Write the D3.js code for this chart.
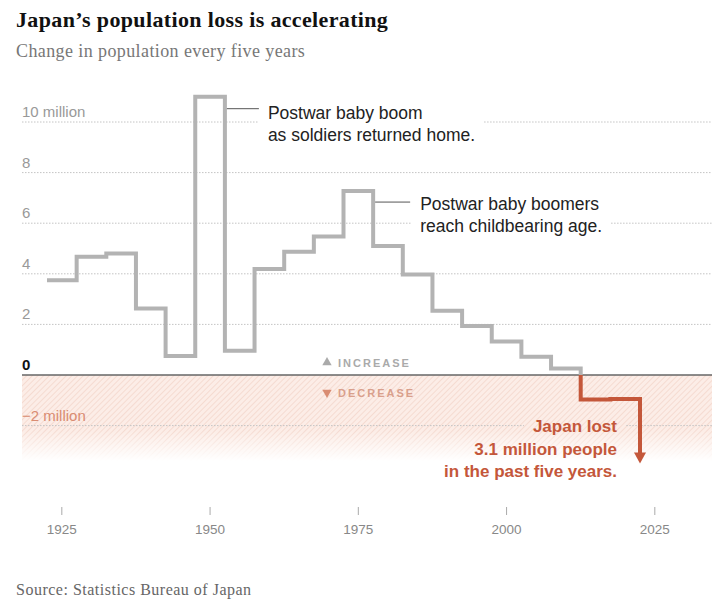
<!DOCTYPE html>
<html lang="en">
<head>
<meta charset="UTF-8">
<title>Japan's population loss is accelerating</title>
<style>
  body { margin: 0; background: #fff; }
  svg { display: block; }
</style>
</head>
<body>
<div id="chart"></div>
<script src="https://d3js.org/d3.v7.min.js"></script>
<script>
// population change over each five-year period, in millions (year = end of period)
const years = [1925, 1930, 1935, 1940, 1945, 1950, 1955, 1960, 1965, 1970,
               1975, 1980, 1985, 1990, 1995, 2000, 2005, 2010, 2015, 2020];
const changes = [3.75, 4.67, 4.8, 2.63, 0.75, 11.0, 0.96, 4.19, 4.87, 5.47,
                 7.27, 5.1, 3.97, 2.54, 1.94, 1.32, 0.72, 0.26, -0.97, -0.95];
// most recent period, drawn as the arrow
const latestYear = 2025;
const latestChange = -3.1;

const yTicks = [-2, 0, 2, 4, 6, 8, 10];
const xTicks = [1925, 1950, 1975, 2000, 2025];

const sans = "'Liberation Sans', Arial, sans-serif";
const serif = "'Liberation Serif', serif";
const gray = "#b3b3b3";
const red = "#c4573a";

const width = 720, height = 611;
const left = 22, right = 712;

const svg = d3.select("#chart").append("svg")
    .attr("width", width)
    .attr("height", height);

const x = d3.scaleLinear().domain([1922.5, 2022.5]).range([47, 640]);
const y = d3.scaleLinear().domain([-4, 12]).range([476.2, 71.4]);

// title + subtitle
svg.append("text")
    .attr("x", 16).attr("y", 27)
    .attr("font-family", serif)
    .attr("font-weight", "bold")
    .attr("font-size", 22)
    .attr("letter-spacing", 0.35)
    .attr("fill", "#111")
    .text("Japan’s population loss is accelerating");

svg.append("text")
    .attr("x", 16).attr("y", 56.5)
    .attr("font-family", serif)
    .attr("font-size", 18)
    .attr("letter-spacing", 0.4)
    .attr("fill", "#777")
    .text("Change in population every five years");

// defs: hatch + fade mask + clips
const defs = svg.append("defs");
const hatch = defs.append("pattern")
    .attr("id", "hatch")
    .attr("patternUnits", "userSpaceOnUse")
    .attr("width", 4).attr("height", 4)
    .attr("patternTransform", "rotate(45)");
hatch.append("rect").attr("width", 4).attr("height", 4).attr("fill", "#fcede7");
hatch.append("line")
    .attr("x1", 0).attr("y1", 0).attr("x2", 0).attr("y2", 4)
    .attr("stroke", "#f3d5ca").attr("stroke-width", 1.5);

const grad = defs.append("linearGradient")
    .attr("id", "fade")
    .attr("x1", 0).attr("y1", 0).attr("x2", 0).attr("y2", 1);
grad.append("stop").attr("offset", "0%").attr("stop-color", "#fff");
grad.append("stop").attr("offset", "65%").attr("stop-color", "#fff");
grad.append("stop").attr("offset", "100%").attr("stop-color", "#000");

defs.append("mask").attr("id", "fadeMask")
    .attr("maskContentUnits", "objectBoundingBox")
  .append("rect")
    .attr("width", 1).attr("height", 1)
    .attr("fill", "url(#fade)");

defs.append("clipPath").attr("id", "above")
  .append("rect")
    .attr("x", 0).attr("y", 0)
    .attr("width", width).attr("height", y(0));
defs.append("clipPath").attr("id", "below")
  .append("rect")
    .attr("x", 0).attr("y", y(0))
    .attr("width", width).attr("height", height - y(0));

// layers
const gBg = svg.append("g");
const gGrid = svg.append("g");
const gAxis = svg.append("g");
const gLine = svg.append("g");
const gText = svg.append("g");

// pink "decrease" area
gBg.append("rect")
    .attr("x", left).attr("y", y(0))
    .attr("width", right - left)
    .attr("height", y(-3.4) - y(0))
    .attr("fill", "url(#hatch)")
    .attr("mask", "url(#fadeMask)");

// y labels
gAxis.selectAll(".ylab")
  .data(yTicks)
  .join("text")
    .attr("class", "ylab")
    .attr("x", left)
    .attr("y", d => y(d) - 5)
    .attr("font-family", sans)
    .attr("font-size", 15)
    .attr("font-weight", d => d === 0 ? "bold" : "normal")
    .attr("fill", d => d === 0 ? "#111" : d < 0 ? "#d98c72" : "#999")
    .text(d => d === 10 ? "10 million" : d === -2 ? "−2 million" : d);

// zero line
gAxis.append("line")
    .attr("x1", left).attr("x2", right)
    .attr("y1", y(0)).attr("y2", y(0))
    .attr("stroke", "#666")
    .attr("stroke-width", 1.5);

// x axis
const xAxis = gAxis.append("g")
    .attr("transform", "translate(0,507)");
xAxis.selectAll("line")
  .data(xTicks)
  .join("line")
    .attr("x1", d => x(d)).attr("x2", d => x(d))
    .attr("y1", 0).attr("y2", 8)
    .attr("stroke", "#aaa");
xAxis.selectAll("text")
  .data(xTicks)
  .join("text")
    .attr("x", d => x(d))
    .attr("y", 27)
    .attr("text-anchor", "middle")
    .attr("font-family", sans)
    .attr("font-size", 13.5)
    .attr("fill", "#888")
    .text(d => d);

// increase / decrease keys
const keyX = 327;
gAxis.append("path")
    .attr("d", d3.symbol(d3.symbolTriangle, 38)())
    .attr("transform", `translate(${keyX},${y(0) - 12.5})`)
    .attr("fill", "#aaa");
gAxis.append("text")
    .attr("x", keyX + 11).attr("y", y(0) - 8.5)
    .attr("font-family", sans)
    .attr("font-size", 11)
    .attr("font-weight", "bold")
    .attr("letter-spacing", 2)
    .attr("fill", "#aaa")
    .text("INCREASE");
gAxis.append("path")
    .attr("d", d3.symbol(d3.symbolTriangle, 38)())
    .attr("transform", `translate(${keyX},${y(0) + 17.5}) rotate(180)`)
    .attr("fill", "#d98c72");
gAxis.append("text")
    .attr("x", keyX + 11).attr("y", y(0) + 21.5)
    .attr("font-family", sans)
    .attr("font-size", 11)
    .attr("font-weight", "bold")
    .attr("letter-spacing", 2)
    .attr("fill", "#d9a08c")
    .text("DECREASE");

// step line
const pts = years.flatMap((yr, i) => [
    [x(yr - 2.5), y(changes[i])],
    [x(yr + 2.5), y(changes[i])]
]);
pts.push([x(latestYear - 2.5), y(latestChange)]);
const line = d3.line();

gLine.append("path")
    .attr("d", line(pts))
    .attr("fill", "none")
    .attr("stroke", gray)
    .attr("stroke-width", 4)
    .attr("stroke-linejoin", "miter")
    .attr("clip-path", "url(#above)");
gLine.append("path")
    .attr("d", line(pts))
    .attr("fill", "none")
    .attr("stroke", red)
    .attr("stroke-width", 4)
    .attr("stroke-linejoin", "miter")
    .attr("clip-path", "url(#below)");

// arrow head
const ax = x(latestYear - 2.5), ay = y(latestChange);
gLine.append("path")
    .attr("d", `M${ax - 6},${ay - 1}L${ax + 6},${ay - 1}L${ax},${ay + 10}Z`)
    .attr("fill", red);

// annotations
const blocks = [];
function annotate(lines, opts) {
  const t = gText.append("text")
      .attr("font-family", sans)
      .attr("font-size", opts.size)
      .attr("font-weight", opts.weight || "normal")
      .attr("fill", opts.color)
      .attr("text-anchor", opts.anchor || "start");
  lines.forEach((s, i) => {
    const ts = t.append("tspan")
        .attr("x", opts.x)
        .attr("y", opts.y + i * opts.lh)
        .text(s);
    const b = ts.node().getBBox();
    blocks.push({x0: b.x - 9, x1: b.x + b.width + 9, y0: b.y - 4, y1: b.y + b.height + 4});
  });
}

// baby boom (1950 peak)
const boomX = x(1952.5), boomY = y(changes[years.indexOf(1950)]);
gText.append("line")
    .attr("x1", boomX + 2).attr("x2", boomX + 34)
    .attr("y1", boomY + 12).attr("y2", boomY + 12)
    .attr("stroke", "#555");
annotate(["Postwar baby boom", "as soldiers returned home."],
  {x: boomX + 43, y: boomY + 22, lh: 22, size: 17.5, color: "#222"});

// baby boomers (1975 peak)
const bbX = x(1977.5), bbY = y(changes[years.indexOf(1975)]);
gText.append("line")
    .attr("x1", bbX + 2).attr("x2", bbX + 37)
    .attr("y1", bbY + 11).attr("y2", bbY + 11)
    .attr("stroke", "#555");
annotate(["Postwar baby boomers", "reach childbearing age."],
  {x: bbX + 47, y: bbY + 19, lh: 22, size: 17.5, color: "#222"});

// latest loss
annotate(["Japan lost", "3.1 million people", "in the past five years."],
  {x: ax - 23, y: y(0) + 57, lh: 22.5, size: 17, weight: "bold", color: red, anchor: "end"});

// gridlines, cut where they pass behind annotation text
function segments(v) {
  const yy = y(v);
  let segs = [[left, right]];
  blocks.filter(b => yy > b.y0 && yy < b.y1).forEach(b => {
    segs = segs.flatMap(([a, c]) => {
      const out = [];
      if (b.x0 > a) out.push([a, Math.min(c, b.x0)]);
      if (b.x1 < c) out.push([Math.max(a, b.x1), c]);
      return out;
    });
  });
  return segs.map(s => ({v: v, x0: s[0], x1: s[1]}));
}

gGrid.selectAll("line")
  .data(yTicks.filter(d => d !== 0).flatMap(segments))
  .join("line")
    .attr("x1", d => d.x0).attr("x2", d => d.x1)
    .attr("y1", d => y(d.v)).attr("y2", d => y(d.v))
    .attr("stroke", "#c4c4c4")
    .attr("stroke-width", 1)
    .attr("stroke-dasharray", "1.5,1.5");

// source
svg.append("text")
    .attr("x", 16).attr("y", 595)
    .attr("font-family", serif)
    .attr("font-size", 16)
    .attr("letter-spacing", 0.5)
    .attr("fill", "#666")
    .text("Source: Statistics Bureau of Japan");
</script>
</body>
</html>
